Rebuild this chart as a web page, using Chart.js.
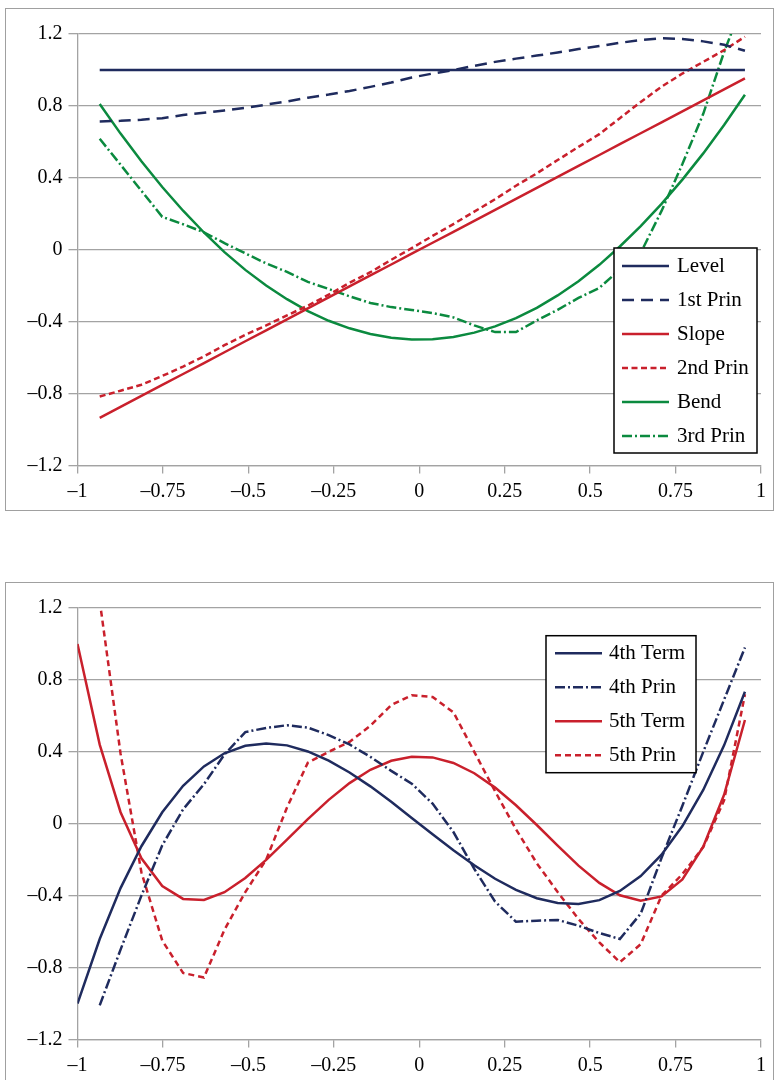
<!DOCTYPE html>
<html lang="en">
<head>
  <meta charset="UTF-8">
  <title>Legendre terms vs principal components</title>
  <script src="https://cdn.jsdelivr.net/npm/chart.js@4"></script>
  <style>
    body { margin: 0; background: #fff; width: 774px; height: 1080px; overflow: hidden; position: relative; }
    .frame { position: absolute; left: 5px; width: 767px; border: 1.5px solid #a0a0a0; }
    #f1 { top: 8px; height: 501px; }
    #f2 { top: 582px; height: 560px; }
    canvas { position: absolute; left: 0; }
    #c1 { top: 0; }
    #c2 { top: 574px; }
  </style>
</head>
<body>
  <div class="frame" id="f1"></div>
  <div class="frame" id="f2"></div>
  <canvas id="c1" width="774" height="520"></canvas>
  <canvas id="c2" width="774" height="506"></canvas>

  <script>
    // maturity grid mapped onto [-1, 1]
    const xGrid = [-0.935,-0.874,-0.813,-0.752,-0.691,-0.630,-0.570,-0.509,-0.448,-0.387,-0.326,-0.265,-0.204,-0.143,-0.082,-0.022,
                   0.039,0.100,0.161,0.222,0.283,0.344,0.405,0.466,0.527,0.587,0.648,0.709,0.770,0.831,0.892,0.953];
    const xTerm = [-1,-0.935,-0.874,-0.813,-0.752,-0.691,-0.630,-0.570,-0.509,-0.448,-0.387,-0.326,-0.265,-0.204,-0.143,-0.082,-0.022,
                   0.039,0.100,0.161,0.222,0.283,0.344,0.405,0.466,0.527,0.587,0.648,0.709,0.770,0.831,0.892,0.953];

    const xTicks = [-1,-0.75,-0.5,-0.25,0,0.25,0.5,0.75,1];
    const yTicks = [-1.2,-0.8,-0.4,0,0.4,0.8,1.2];

    // top panel
    const level = [1,1,1,1,1,1,1,1,1,1,1,1,1,1,1,1,1,1,1,1,1,1,1,1,1,1,1,1,1,1,1,1];
    const firstPrin = [0.714,0.717,0.723,0.732,0.749,0.762,0.775,0.790,0.807,0.825,0.846,0.863,0.883,0.906,0.930,0.958,
                       0.980,0.999,1.023,1.045,1.063,1.080,1.097,1.116,1.133,1.151,1.166,1.176,1.172,1.159,1.140,1.107];
    const slope = [-0.935,-0.874,-0.813,-0.752,-0.691,-0.630,-0.570,-0.509,-0.448,-0.387,-0.326,-0.265,-0.204,-0.143,-0.082,-0.022,
                   0.039,0.100,0.161,0.222,0.283,0.344,0.405,0.466,0.527,0.587,0.648,0.709,0.770,0.831,0.892,0.953];
    const secondPrin = [-0.816,-0.784,-0.751,-0.702,-0.650,-0.593,-0.531,-0.473,-0.421,-0.365,-0.311,-0.250,-0.184,-0.125,-0.056,0.009,
                        0.077,0.143,0.212,0.281,0.356,0.425,0.499,0.572,0.643,0.732,0.822,0.907,0.980,1.045,1.110,1.185];
    const bend = [0.811,0.646,0.492,0.349,0.217,0.096,-0.013,-0.112,-0.199,-0.275,-0.341,-0.395,-0.437,-0.469,-0.490,-0.499,
                  -0.498,-0.485,-0.461,-0.426,-0.380,-0.323,-0.254,-0.175,-0.084,0.018,0.131,0.255,0.390,0.536,0.694,0.862];
    const thirdPrin = [0.617,0.473,0.328,0.183,0.142,0.097,0.037,-0.020,-0.076,-0.123,-0.179,-0.218,-0.259,-0.296,-0.319,-0.335,
                       -0.352,-0.376,-0.421,-0.458,-0.458,-0.393,-0.334,-0.268,-0.212,-0.110,-0.017,0.216,0.477,0.756,1.100,1.400];

    // bottom panel
    const fourthTerm = [-1,-0.641,-0.358,-0.125,0.064,0.211,0.319,0.392,0.434,0.447,0.436,0.402,0.351,0.285,0.208,0.122,0.032,
                        -0.059,-0.148,-0.231,-0.306,-0.368,-0.414,-0.441,-0.446,-0.425,-0.374,-0.291,-0.172,-0.013,0.188,0.436,0.734];
    const fourthPrin = [-1.01,-0.70,-0.40,-0.12,0.08,0.22,0.385,0.51,0.533,0.548,0.535,0.493,0.441,0.372,0.294,0.223,
                        0.112,-0.046,-0.251,-0.433,-0.545,-0.539,-0.535,-0.567,-0.608,-0.641,-0.50,-0.19,0.10,0.40,0.69,0.98];
    const fifthTerm = [1,0.440,0.064,-0.192,-0.346,-0.418,-0.424,-0.381,-0.302,-0.201,-0.088,0.026,0.133,0.226,0.300,0.350,0.373,
                       0.369,0.338,0.281,0.201,0.103,-0.007,-0.122,-0.233,-0.329,-0.398,-0.428,-0.404,-0.310,-0.128,0.161,0.577];
    const fifthPrin = [1.24,0.39,-0.27,-0.65,-0.83,-0.855,-0.59,-0.38,-0.20,0.09,0.34,0.40,0.455,0.545,0.66,0.715,
                       0.705,0.62,0.40,0.18,-0.03,-0.22,-0.38,-0.53,-0.66,-0.77,-0.67,-0.40,-0.28,-0.13,0.13,0.72];

    const NAVY = '#1f2b5e', RED = '#c9202c', GREEN = '#0b8a3f', GRID = '#a3a3a3';

    Chart.defaults.font.family = '"Liberation Serif", "Times New Roman", serif';
    Chart.defaults.color = '#000';

    function pts(xs, ys) { return xs.map((x, i) => ({ x: x, y: ys[i] })); }
    function fmt(v) { return v < 0 ? '\u2013' + String(-v) : String(v); }

    function line(label, xs, ys, color, dash) {
      return {
        label: label, data: pts(xs, ys), borderColor: color, backgroundColor: color,
        borderWidth: 2.5, borderDash: dash || [], pointRadius: 0, tension: 0, fill: false
      };
    }

    // legend drawn as a framed box inside the plot, like the original
    const boxLegend = {
      id: 'boxLegend',
      afterDraw(chart, args, o) {
        const ctx = chart.ctx;
        ctx.save();
        ctx.setLineDash([]);
        ctx.fillStyle = '#fff';
        ctx.fillRect(o.x, o.y, o.w, o.h);
        ctx.lineWidth = 1.5;
        ctx.strokeStyle = '#000';
        ctx.strokeRect(o.x, o.y, o.w, o.h);
        chart.data.datasets.forEach((ds, i) => {
          const y = o.y + o.first + i * o.row;
          ctx.beginPath();
          ctx.setLineDash(ds.borderDash);
          ctx.strokeStyle = ds.borderColor;
          ctx.lineWidth = ds.borderWidth;
          ctx.moveTo(o.x + o.l0, y);
          ctx.lineTo(o.x + o.l1, y);
          ctx.stroke();
          ctx.setLineDash([]);
          ctx.fillStyle = '#000';
          ctx.font = '21px "Liberation Serif"';
          ctx.textBaseline = 'middle';
          ctx.fillText(ds.label, o.x + o.tx, y);
        });
        ctx.restore();
      }
    };

    function options(canvasH, legend) {
      return {
        responsive: false,
        animation: false,
        layout: { padding: { left: 0, right: 13, top: 34, bottom: 0 } },
        plugins: { legend: { display: false }, tooltip: { enabled: false }, boxLegend: legend },
        scales: {
          x: {
            type: 'linear', min: -1, max: 1,
            afterBuildTicks: s => { s.ticks = xTicks.map(v => ({ value: v })); },
            afterFit: s => { s.height = canvasH - 465.5; },
            grid: { drawOnChartArea: false, drawTicks: true, tickLength: 8, color: GRID, lineWidth: 1.3 },
            border: { color: GRID, width: 1.3 },
            ticks: { font: { size: 20 }, padding: 6, maxRotation: 0, callback: v => fmt(v) }
          },
          y: {
            min: -1.2, max: 1.2,
            afterBuildTicks: s => { s.ticks = yTicks.map(v => ({ value: v })); },
            afterFit: s => { s.width = 77.5; },
            grid: { color: GRID, lineWidth: 1.3, tickLength: 9 },
            border: { color: GRID, width: 1.3 },
            ticks: { font: { size: 20 }, padding: 6, callback: v => fmt(v) }
          }
        }
      };
    }

    new Chart(document.getElementById('c1'), {
      type: 'line',
      data: {
        datasets: [
          line('Level', xGrid, level, NAVY),
          line('1st Prin', xGrid, firstPrin, NAVY, [12, 7]),
          line('Slope', xGrid, slope, RED),
          line('2nd Prin', xGrid, secondPrin, RED, [6, 3.5]),
          line('Bend', xGrid, bend, GREEN),
          line('3rd Prin', xGrid, thirdPrin, GREEN, [10, 3, 2, 3])
        ]
      },
      options: options(520, { x: 614, y: 248, w: 143, h: 205, first: 18, row: 34, l0: 8, l1: 55, tx: 63 }),
      plugins: [boxLegend]
    });

    new Chart(document.getElementById('c2'), {
      type: 'line',
      data: {
        datasets: [
          line('4th Term', xTerm, fourthTerm, NAVY),
          line('4th Prin', xGrid, fourthPrin, NAVY, [10, 3, 2, 3]),
          line('5th Term', xTerm, fifthTerm, RED),
          line('5th Prin', xGrid, fifthPrin, RED, [6, 4])
        ]
      },
      options: options(506, { x: 546, y: 61.7, w: 150, h: 137, first: 17.6, row: 34, l0: 9, l1: 56, tx: 63 }),
      plugins: [boxLegend]
    });
  </script>
</body>
</html>
